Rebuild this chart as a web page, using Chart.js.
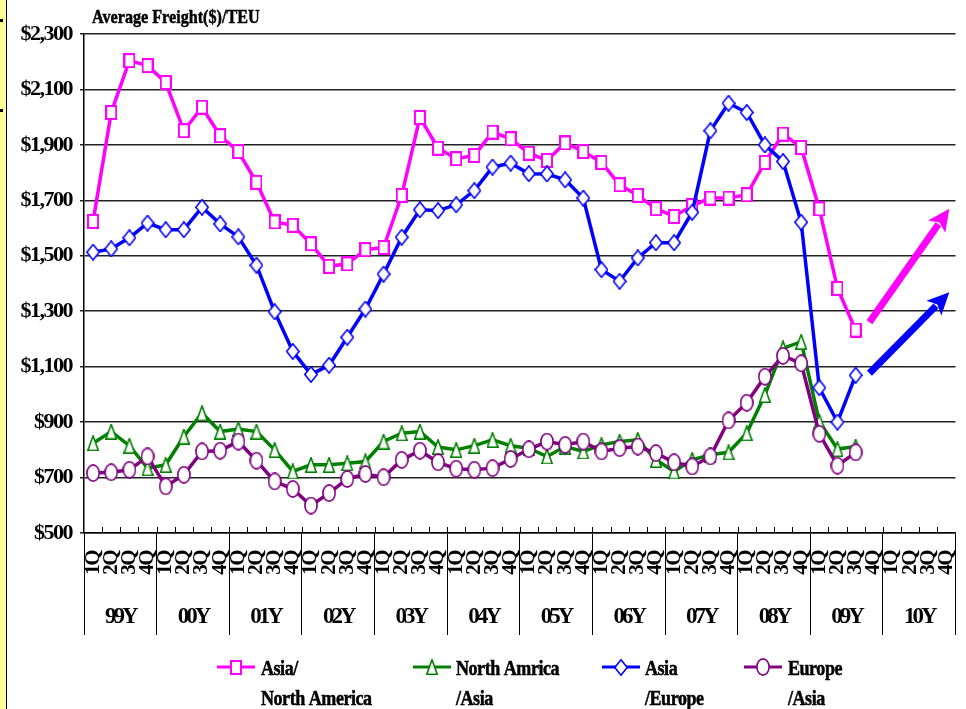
<!DOCTYPE html>
<html><head><meta charset="utf-8">
<script src="https://cdn.jsdelivr.net/npm/chart.js@4/dist/chart.umd.min.js"></script>
<style>html,body{margin:0;padding:0;background:#fff;}canvas{display:block;}</style>
</head><body>
<canvas id="c" width="966" height="709"></canvas>
<script>
// ---------- data ----------
const years = ['99Y','00Y','01Y','02Y','03Y','04Y','05Y','06Y','07Y','08Y','09Y','10Y'];
const quarters = ['1Q','2Q','3Q','4Q'];
const yMin = 500, yMax = 2300, yStep = 200;

const asiaNorthAmerica = [1624,2017,2204,2186,2125,1951,2036,1933,1876,1765,1622,1610,1543,1462,1471,1522,
  1530,1718,1999,1888,1850,1862,1946,1922,1870,1844,1907,1876,1837,1756,1718,1670,1642,1681,1708,1708,
  1720,1837,1939,1891,1669,1382,1232];
const northAmericaAsia = [824,866,815,734,746,848,932,866,875,866,800,722,746,746,752,758,830,860,866,810,
  800,815,836,815,806,776,812,794,818,830,836,764,722,764,782,791,860,998,1166,1190,902,803,812];
const asiaEurope = [1513,1525,1565,1618,1594,1594,1675,1615,1568,1466,1298,1155,1072,1105,1206,1308,
  1434,1567,1666,1663,1684,1735,1820,1834,1796,1795,1774,1708,1450,1408,1492,1547,1547,1657,1951,2050,
  2017,1900,1840,1621,1024,900,1069];
const europeAsia = [716,719,728,776,668,710,794,797,830,761,686,659,599,644,695,713,701,764,797,755,732,
  728,734,767,802,830,818,830,794,806,812,788,755,740,776,906,970,1064,1139,1112,858,743,791];

const seriesNames = [['Asia/','North America'],['North Amrica','/Asia'],['Asia','/Europe'],['Europe','/Asia']];
const titleText = 'Average Freight($)/TEU';
// outlook arrows, in data units: [category position, value]
const arrowFrom = [[42.76,1260],[42.76,1076]];
const arrowTo   = [[47.16,1670],[47.16,1368]];

// ---------- styles ----------
const colors = ['#FF00FF','#008000','#0000FF','#800080'];
const FONT = '"Liberation Serif", "Times New Roman", serif';

function mk(w,h,draw){ const c=document.createElement('canvas'); c.width=w; c.height=h; draw(c.getContext('2d'),w,h); return c; }
const squareImg = mk(12,15,(g,w,h)=>{ g.fillStyle='#fff'; g.fillRect(1,1,w-2,h-2); g.strokeStyle=colors[0]; g.lineWidth=2; g.strokeRect(1,1,w-2,h-2); });
const triImg = mk(12,16,(g,w,h)=>{ g.beginPath(); g.moveTo(w/2,0.8); g.lineTo(w-0.8,h-0.8); g.lineTo(0.8,h-0.8); g.closePath(); g.fillStyle='#fff'; g.fill(); g.strokeStyle=colors[1]; g.lineWidth=1.6; g.stroke(); });
const diaImg = mk(14,17,(g,w,h)=>{ g.beginPath(); g.moveTo(w/2,0.8); g.lineTo(w-0.8,h/2); g.lineTo(w/2,h-0.8); g.lineTo(0.8,h/2); g.closePath(); g.fillStyle='#fff'; g.fill(); g.strokeStyle=colors[2]; g.lineWidth=1.6; g.stroke(); });
const ellImg = mk(14,18,(g,w,h)=>{ g.beginPath(); g.ellipse(w/2,h/2,w/2-0.9,h/2-0.9,0,0,Math.PI*2); g.fillStyle='#fff'; g.fill(); g.strokeStyle=colors[3]; g.lineWidth=1.6; g.stroke(); });
const markerImgs = [squareImg, triImg, diaImg, ellImg];

const categoryLabels = years.flatMap(y => quarters.map(q => y + ' ' + q));

function condensedText(ctx, text, x, y, size, sx, ls){
  ctx.save(); ctx.font = 'bold ' + size + 'px ' + FONT; ctx.textBaseline = 'alphabetic'; ctx.textAlign='left';
  ctx.letterSpacing = (ls || 0) + 'px';
  ctx.fillStyle = '#000'; ctx.strokeStyle = '#000'; ctx.lineWidth = 0.5;
  ctx.translate(x, y); ctx.scale(sx, 1); ctx.fillText(text, 0, 0); ctx.strokeText(text, 0, 0); ctx.restore();
}
function drawArrow(ctx, x1, y1, x2, y2, color){
  const a = Math.atan2(y2-y1, x2-x1), L = 22, W = 10.5;
  const bx = x2 - L*Math.cos(a), by = y2 - L*Math.sin(a);
  ctx.strokeStyle = color; ctx.lineWidth = 7; ctx.lineCap = 'butt';
  ctx.beginPath(); ctx.moveTo(x1,y1); ctx.lineTo(bx + 3*Math.cos(a), by + 3*Math.sin(a)); ctx.stroke();
  ctx.fillStyle = color; ctx.beginPath(); ctx.moveTo(x2,y2);
  ctx.lineTo(bx + W*Math.sin(a), by - W*Math.cos(a));
  ctx.lineTo(bx + 5*Math.cos(a), by + 5*Math.sin(a));
  ctx.lineTo(bx - W*Math.sin(a), by + W*Math.cos(a));
  ctx.closePath(); ctx.fill();
}

const decor = {
  id: 'decor',
  beforeDraw(chart){
    const ctx = chart.ctx;
    ctx.save();
    ctx.fillStyle = '#fff'; ctx.fillRect(0,0,chart.width,chart.height);
    ctx.fillStyle = '#FFFF99'; ctx.fillRect(0,0,6,chart.height);
    ctx.fillStyle = '#000'; ctx.fillRect(6,0,1,chart.height);
    ctx.fillRect(0,19,3,3); ctx.fillRect(0,109,3,3);
    ctx.restore();
    ctx.letterSpacing = '-1.5px';
  },
  afterDatasetsDraw(chart){ chart.ctx.letterSpacing = '-3px'; },
  afterDraw(chart){
    const ctx = chart.ctx, xs = chart.scales.x, ys = chart.scales.y, area = chart.chartArea;
    ctx.save();
    ctx.letterSpacing = '0px';
    // small inward tick marks on the category axis
    ctx.strokeStyle = '#000'; ctx.lineWidth = 1;
    for (let i = 1; i < categoryLabels.length; i++){
      const px = Math.round(xs.getPixelForValue(i - 0.5)) + 0.5;
      ctx.beginPath(); ctx.moveTo(px, area.bottom - 6); ctx.lineTo(px, area.bottom); ctx.stroke();
    }
    // outlook arrows
    const arrowColors = [colors[0], colors[2]];
    arrowFrom.forEach((f, k) => {
      const t = arrowTo[k];
      drawArrow(ctx, xs.getPixelForValue(f[0]), ys.getPixelForValue(f[1]), xs.getPixelForValue(t[0]), ys.getPixelForValue(t[1]), arrowColors[k]);
    });
    // title
    condensedText(ctx, titleText, 92, 23, 19, 0.85, 0);
    // legend
    const lx = [217, 413, 602, 744];
    const tx = [261, 456, 645, 788];
    const ly = 667;
    seriesNames.forEach((nm, k) => {
      ctx.strokeStyle = colors[k]; ctx.lineWidth = 3;
      ctx.beginPath(); ctx.moveTo(lx[k], ly); ctx.lineTo(lx[k] + 38, ly); ctx.stroke();
      const im = markerImgs[k];
      ctx.drawImage(im, Math.round(lx[k] + 19 - im.width/2), Math.round(ly - im.height/2));
      condensedText(ctx, nm[0], tx[k], 675, 20, 0.9, -0.5);
      condensedText(ctx, nm[1], tx[k], 705, 20, 0.9, -0.5);
    });
    ctx.restore();
  }
};

const seriesData = [asiaNorthAmerica, northAmericaAsia, asiaEurope, europeAsia];
const datasets = seriesData.map((d, k) => ({
  label: seriesNames[k].join(' '),
  data: d,
  borderColor: colors[k],
  backgroundColor: colors[k],
  borderWidth: 3.5,
  pointStyle: markerImgs[k],
  pointRadius: 7,
  tension: 0,
  order: 4 - k
}));

Chart.defaults.font.family = FONT;
Chart.defaults.font.weight = 'bold';
Chart.defaults.color = '#000';

new Chart(document.getElementById('c'), {
  type: 'line',
  data: { labels: categoryLabels, datasets },
  plugins: [decor],
  options: {
    responsive: false,
    animation: false,
    devicePixelRatio: 1,
    layout: { padding: { top: 34, right: 10, bottom: 74, left: 0 } },
    plugins: { legend: { display: false }, title: { display: false }, tooltip: { enabled: false } },
    scales: {
      x: {
        type: 'category', position: 'bottom', offset: true, weight: 0,
        grid: { display: true, drawOnChartArea: false, offset: true, drawTicks: true, tickLength: 45, lineWidth: 1,
                color: c => (c.index === undefined || c.index % 4 === 0) ? '#000' : 'rgba(0,0,0,0)' },
        border: { display: true, color: '#000', width: 1.5 },
        ticks: { autoSkip: false, minRotation: 90, maxRotation: 90, padding: -27, z: 0,
                 font: { size: 21, weight: 'bold' }, color: '#000',
                 callback: (v, i) => quarters[i % 4] },
        afterFit(s){ s.height = 45; s.paddingLeft = 0; s.paddingRight = 0; }
      },
      x2: {
        type: 'category', labels: years, position: 'bottom', offset: true, weight: 1,
        grid: { display: true, drawOnChartArea: false, offset: true, drawTicks: true, tickLength: 57, lineWidth: 1, color: '#000' },
        border: { display: false },
        ticks: { autoSkip: false, maxRotation: 0, minRotation: 0, padding: -32, z: 1,
                 font: { size: 23, weight: 'bold' }, color: '#000' },
        afterFit(s){ s.height = 57; s.paddingLeft = 0; s.paddingRight = 0; }
      },
      y: {
        min: yMin, max: yMax,
        grid: { color: '#222', lineWidth: 1.5, tickLength: 4, drawTicks: true },
        border: { display: true, color: '#000', width: 1.5 },
        ticks: { stepSize: yStep, padding: 8, font: { size: 22, weight: 'bold' }, color: '#000',
                 callback: v => '$' + Number(v).toLocaleString('en-US') },
        afterFit(s){ s.width = 84; }
      }
    }
  }
});
</script>
</body></html>
